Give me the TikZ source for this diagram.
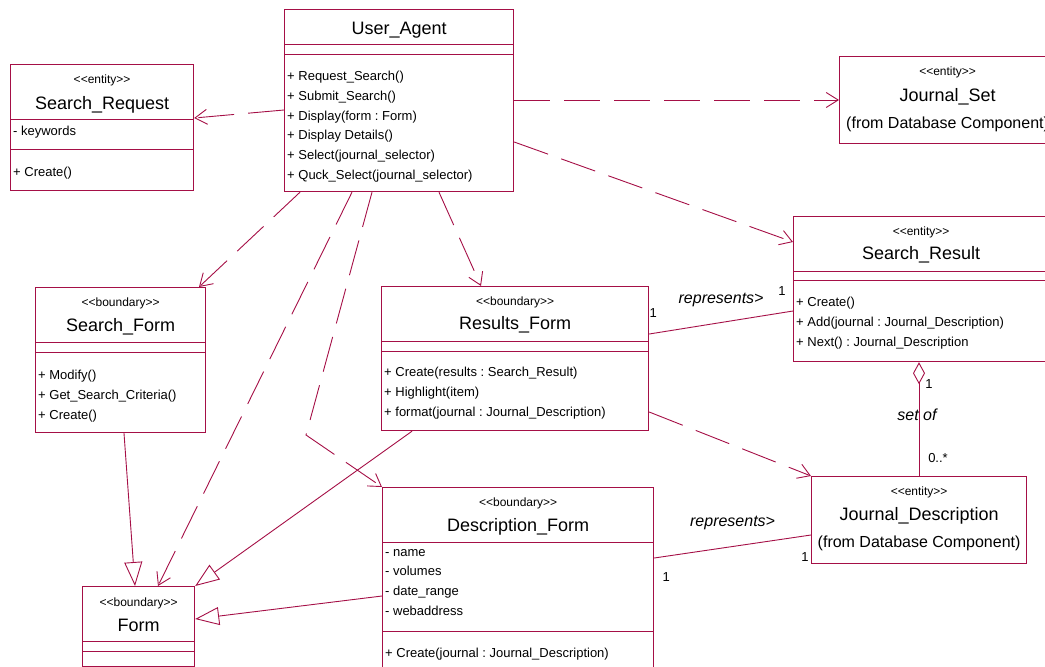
\documentclass[tikz,border=0pt]{standalone}
\usepackage{fontspec}
\setmainfont{Liberation Sans}[Ligatures=TeXOff]
\usetikzlibrary{calc,positioning,arrows.meta}
\definecolor{umlred}{RGB}{165,15,70}
\newcommand{\compline}[2]{\draw[cline] ($(#1.north west)+(0,#2)$) -- ($(#1.north east)+(0,#2)$);}
\frenchspacing

\begin{document}
\begin{tikzpicture}[x=1pt,y=-1pt,
	cls/.style={draw=umlred,line width=1.2pt,anchor=north west,inner sep=0pt},
	cline/.style={draw=umlred,line width=0.9pt},
	stereo/.style={inner sep=0pt,font=\fontsize{12}{14}\selectfont},
	cname/.style={inner sep=0pt,font=\fontsize{18}{20}\selectfont},
	from/.style={inner sep=0pt,font=\fontsize{16}{18}\selectfont},
	members/.style={anchor=north west,align=left,inner sep=0pt,font=\fontsize{13}{19.7}\selectfont},
	role/.style={inner sep=0pt,text=black,font=\fontsize{16}{18}\selectfont\itshape},
	mult/.style={inner sep=0pt,text=black,font=\fontsize{13}{15}\selectfont},
	dep/.style={umlred,line width=0.9pt,dash pattern=on 36pt off 14pt,-{Straight Barb[length=12pt,width=15pt]}},
	gen/.style={umlred,line width=0.9pt,-{Triangle[open,length=24pt,width=18pt]}},
	assoc/.style={umlred,line width=0.9pt}
	]

	\useasboundingbox (0,0) rectangle (1045,667);

	\node[cls,minimum width=229pt,minimum height=182pt] (ua) at (284,9) {};
	\node[cname] (uaname) at ($(ua.north)+(0,21)$) {User\_Agent};
	\compline{ua}{35}
	\compline{ua}{45}
	\node[members] (uaops) at ($(ua.north west)+(3,62)$) {+ Request\_Search()\\+ Submit\_Search()\\+ Display(form : Form)\\+ Display Details()\\+ Select(journal\_selector)\\+ Quck\_Select(journal\_selector)};

	\node[cls,minimum width=183pt,minimum height=126pt] (sreq) at (10,64) {};
	\node[stereo] (sreqst) at ($(sreq.north)+(0,16)$) {<<entity>>};
	\node[cname] (sreqname) at ($(sreq.north)+(0,41)$) {Search\_Request};
	\compline{sreq}{55}
	\compline{sreq}{85}
	\node[members] (sreqattr) at ($(sreq.north west)+(3,62)$) {- keywords};
	\node[members] (sreqops) at ($(sreq.north west)+(3,103)$) {+ Create()};

	\node[cls,minimum width=216pt,minimum height=87pt] (js) at (839,56) {};
	\node[stereo] (jsst) at ($(js.north)+(0,16)$) {<<entity>>};
	\node[cname] (jsname) at ($(js.north)+(0,41)$) {Journal\_Set};
	\node[from] (jsfrom) at ($(js.north)+(0,68)$) {(from Database Component)};

	\node[cls,minimum width=255pt,minimum height=145pt] (sr) at (793,216) {};
	\node[stereo] (srst) at ($(sr.north)+(0,16)$) {<<entity>>};
	\node[cname] (srname) at ($(sr.north)+(0,39)$) {Search\_Result};
	\compline{sr}{55}
	\compline{sr}{64}
	\node[members] (srops) at ($(sr.north west)+(3,81)$) {+ Create()\\+ Add(journal : Journal\_Description)\\+ Next() : Journal\_Description};

	\node[cls,minimum width=170pt,minimum height=145pt] (sf) at (35,287) {};
	\node[stereo] (sfst) at ($(sf.north)+(0,16)$) {<<boundary>>};
	\node[cname] (sfname) at ($(sf.north)+(0,40)$) {Search\_Form};
	\compline{sf}{55}
	\compline{sf}{65}
	\node[members] (sfops) at ($(sf.north west)+(3,83)$) {+ Modify()\\+ Get\_Search\_Criteria()\\+ Create()};

	\node[cls,minimum width=267pt,minimum height=144pt] (rf) at (381,286) {};
	\node[stereo] (rfst) at ($(rf.north)+(0,16)$) {<<boundary>>};
	\node[cname] (rfname) at ($(rf.north)+(0,39)$) {Results\_Form};
	\compline{rf}{55}
	\compline{rf}{65}
	\node[members] (rfops) at ($(rf.north west)+(3,81)$) {+ Create(results : Search\_Result)\\+ Highlight(item)\\+ format(journal : Journal\_Description)};

	\node[cls,minimum width=271pt,minimum height=200pt] (df) at (382,487) {};
	\node[stereo] (dfst) at ($(df.north)+(0,16)$) {<<boundary>>};
	\node[cname] (dfname) at ($(df.north)+(0,40)$) {Description\_Form};
	\compline{df}{55}
	\node[members] (dfattr) at ($(df.north west)+(3,62)$) {- name\\- volumes\\- date\_range\\- webaddress};
	\compline{df}{144}
	\node[members] (dfops) at ($(df.north west)+(3,161)$) {+ Create(journal : Journal\_Description)};

	\node[cls,minimum width=112pt,minimum height=80pt] (form) at (82,586) {};
	\node[stereo] (formst) at ($(form.north)+(0,17)$) {<<boundary>>};
	\node[cname] (formname) at ($(form.north)+(0,39)$) {Form};
	\compline{form}{55}
	\compline{form}{65}

	\node[cls,minimum width=215pt,minimum height=87pt] (jd) at (811,476) {};
	\node[stereo] (jdst) at ($(jd.north)+(0,16)$) {<<entity>>};
	\node[cname] (jdname) at ($(jd.north)+(0,40)$) {Journal\_Description};
	\node[from] (jdfrom) at ($(jd.north)+(0,67)$) {(from Database Component)};

	% dependencies
	\draw[dep] (ua.west |- 0,110) -- (sreq.east |- 0,118);
	\draw[dep] (ua.east |- 0,100) -- (js.west |- 0,100);
	\draw[dep] (ua.east |- 0,142) -- (sr.west |- 0,242);
	\draw[dep] (ua.south -| 300,0) -- (sf.north -| 199,0);
	\draw[dep] (ua.south -| 352,0) -- (form.north -| 158,0);
	\coordinate (bend) at (306,435);
	\draw[dep] (ua.south -| 372,0) -- (bend) -- (df.north west);
	\draw[dep] (ua.south -| 439,0) -- (rf.north -| 481,0);
	\draw[dep] (rf.east |- 0,412) -- (jd.north west);

	% generalisations
	\draw[gen] (sf.south -| 124,0) -- (form.north -| 135,0);
	\draw[gen] (rf.south -| 412,0) -- (form.north east);
	\draw[gen] (df.west |- 0,596) -- (form.east |- 0,619);

	% associations
	\draw[assoc] (rf.east |- 0,334) -- node[role,yshift=23pt] (rep1) {represents>}
		node[mult,pos=0,xshift=4pt,yshift=21pt] (m1a) {1}
		node[mult,pos=1,xshift=-11pt,yshift=20pt] (m1b) {1} (sr.west |- 0,311);
	\draw[assoc] (df.east |- 0,558) -- node[role,yshift=23.5pt] (rep2) {represents>}
		node[mult,pos=0,xshift=12pt,yshift=-19pt] (m2a) {1}
		node[mult,pos=1,xshift=-6pt,yshift=-22pt] (m2b) {1} (jd.west |- 0,535);
	\draw[assoc,{Diamond[open,length=22pt,width=12pt]}-] (sr.south -| 919,0) -- node[role,xshift=-2pt,yshift=4.5pt] (setof) {set of}
		node[mult,pos=0,xshift=10pt,yshift=-22pt] (m3a) {1}
		node[mult,pos=1,xshift=19pt,yshift=18pt] (m3b) {0..*} (jd.north -| 919,0);

\end{tikzpicture}
\end{document}
